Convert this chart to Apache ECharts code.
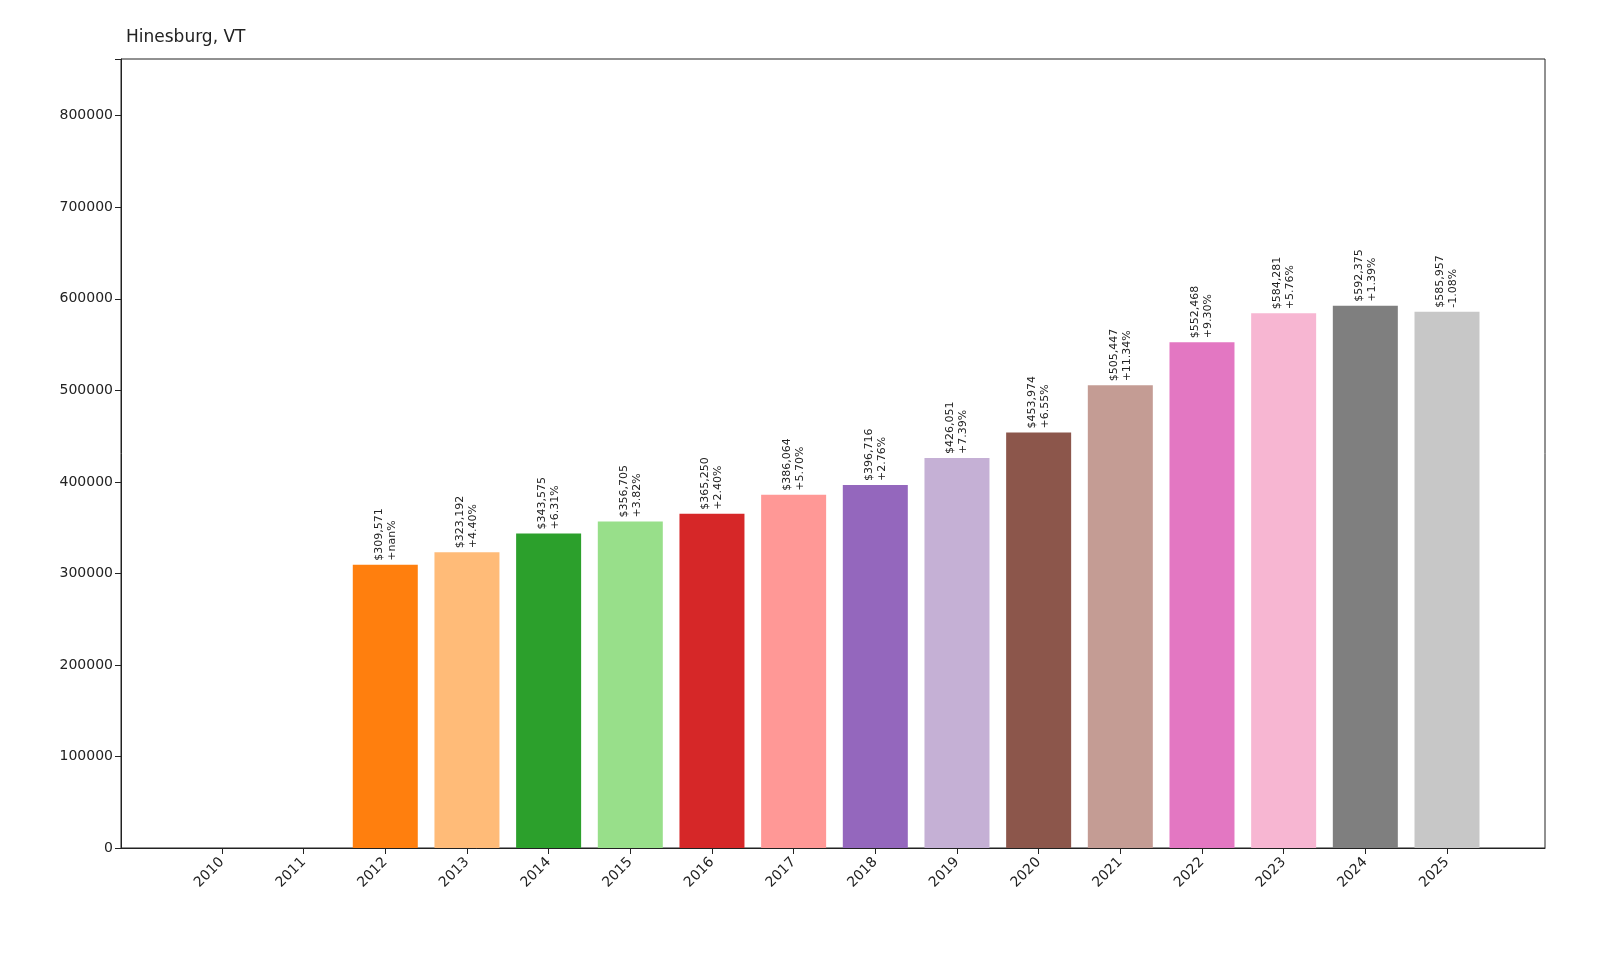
<!DOCTYPE html>
<html>
<head>
<meta charset="utf-8">
<script src="https://cdn.jsdelivr.net/npm/echarts@6/dist/echarts.min.js"></script>
<style>html,body{margin:0;padding:0;background:#fff}#chart{width:1600px;height:960px}</style>
</head>
<body>
<div id="chart"></div>
<script>
var years = ['2010','2011','2012','2013','2014','2015','2016','2017','2018','2019','2020','2021','2022','2023','2024','2025'];
var values = [0, 0, 309571, 323192, 343575, 356705, 365250, 386064, 396716, 426051, 453974, 505447, 552468, 584281, 592375, 585957];
var changes = ['', '', '+nan%', '+4.40%', '+6.31%', '+3.82%', '+2.40%', '+5.70%', '+2.76%', '+7.39%', '+6.55%', '+11.34%', '+9.30%', '+5.76%', '+1.39%', '-1.08%'];
var colors = ['#1f77b4','#aec7e8','#ff7f0e','#ffbb78','#2ca02c','#98df8a','#d62728','#ff9896','#9467bd','#c5b0d5','#8c564b','#c49c94','#e377c2','#f7b6d2','#7f7f7f','#c7c7c7'];

var chart = echarts.init(document.getElementById('chart'));
var font = 'DejaVu Sans';
var idx = years.map(function (y, i) { return i; });
var data = values.map(function (v, i) {
    return {
        value: [i, v],
        itemStyle: {color: colors[i]},
        label: {show: v > 0}
    };
});
chart.setOption({
    animation: false,
    textStyle: {fontFamily: font},
    title: {text: 'Hinesburg, VT', left: 121, top: 24, textStyle: {fontFamily: font, fontSize: 17, fontWeight: 'normal', color: '#222'}},
    grid: {left: 121, right: 55, top: 59, bottom: 112, show: true, borderColor: '#222', borderWidth: 1},
    xAxis: {
        type: 'value', min: -1.236, max: 16.2,
        splitLine: {show: false},
        axisLine: {onZero: false, lineStyle: {color: '#222'}},
        axisTick: {show: true, length: 6, customValues: idx, lineStyle: {color: '#222'}},
        axisLabel: {
            rotate: 45, fontSize: 14, color: '#222', margin: 12, customValues: idx,
            formatter: function (v) { return years[Math.round(v)] || ''; }
        }
    },
    yAxis: {
        type: 'value', min: 0, max: 862000, interval: 100000,
        splitLine: {show: false},
        axisLine: {show: true, onZero: false, lineStyle: {color: '#222'}},
        axisTick: {show: true, length: 6, lineStyle: {color: '#222'}},
        axisLabel: {fontSize: 14, color: '#222', formatter: function (v) { return v % 100000 === 0 ? String(v) : ''; }}
    },
    series: [{
        type: 'bar',
        barWidth: 65,
        data: data,
        label: {
            position: 'top', rotate: 90, align: 'left', verticalAlign: 'middle',
            distance: 4, fontSize: 11, color: '#222', lineHeight: 13,
            formatter: function (p) {
                var i = p.value[0];
                return '$' + values[i].toLocaleString('en-US') + '\n' + changes[i];
            }
        }
    }]
});
</script>
</body>
</html>
